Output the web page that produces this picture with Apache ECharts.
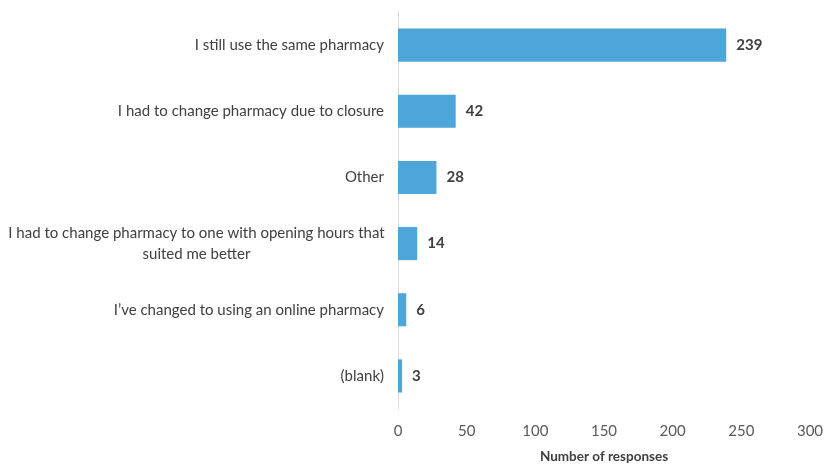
<!DOCTYPE html>
<html>
<head>
<meta charset="utf-8">
<script src="https://cdn.jsdelivr.net/npm/echarts@6/dist/echarts.min.js"></script>
<style>
html,body{margin:0;padding:0;background:#fff;}
#chart{width:826px;height:464px;}
</style>
</head>
<body>
<div id="chart"></div>
<script>
// Survey answers, top to bottom
const categories = [
  'I still use the same pharmacy',
  'I had to change pharmacy due to closure',
  'Other',
  'I had to change pharmacy to one with opening hours that\nsuited me better',
  'I\u2019ve changed to using an online pharmacy',
  '(blank)'
];
const responses = [239, 42, 28, 14, 6, 3];
const xTicks = { min: 0, max: 300, interval: 50 };

const FONT = 'Lato, "Open Sans", sans-serif';
const chart = echarts.init(document.getElementById('chart'));

// the two-line answer is centred under its first line
const catData = categories.map(c => c.indexOf('\n') >= 0
  ? { value: c, textStyle: { align: 'center', padding: [0, 375, 0, 0], lineHeight: 21 } }
  : c);

chart.setOption({
  animation: false,
  grid: { left: 398, right: 16, top: 12, bottom: 55, containLabel: false, outerBoundsMode: 'none' },
  xAxis: {
    type: 'value',
    min: xTicks.min, max: xTicks.max, interval: xTicks.interval,
    name: 'Number of responses',
    nameLocation: 'middle',
    nameGap: 41,
    nameTextStyle: { fontFamily: FONT, fontSize: 13.5, fontWeight: 'bold', color: '#404040' },
    axisLine: { show: false },
    axisTick: { show: false },
    splitLine: { show: false },
    axisLabel: { fontFamily: FONT, fontSize: 15, color: '#595959', margin: 15 }
  },
  yAxis: {
    type: 'category',
    inverse: true,
    data: catData,
    axisLine: { show: true, lineStyle: { color: '#d9d9d9', width: 1 } },
    axisTick: { show: false },
    axisLabel: { fontFamily: FONT, fontSize: 15, color: '#404040', margin: 14, lineHeight: 21 }
  },
  series: [{
    type: 'bar',
    data: responses,
    barWidth: '50%',
    itemStyle: { color: '#4EA5D9' },
    label: {
      show: true, position: 'right', distance: 10,
      fontFamily: FONT, fontSize: 15, fontWeight: 'bold', color: '#404040'
    }
  }]
});
</script>
</body>
</html>
